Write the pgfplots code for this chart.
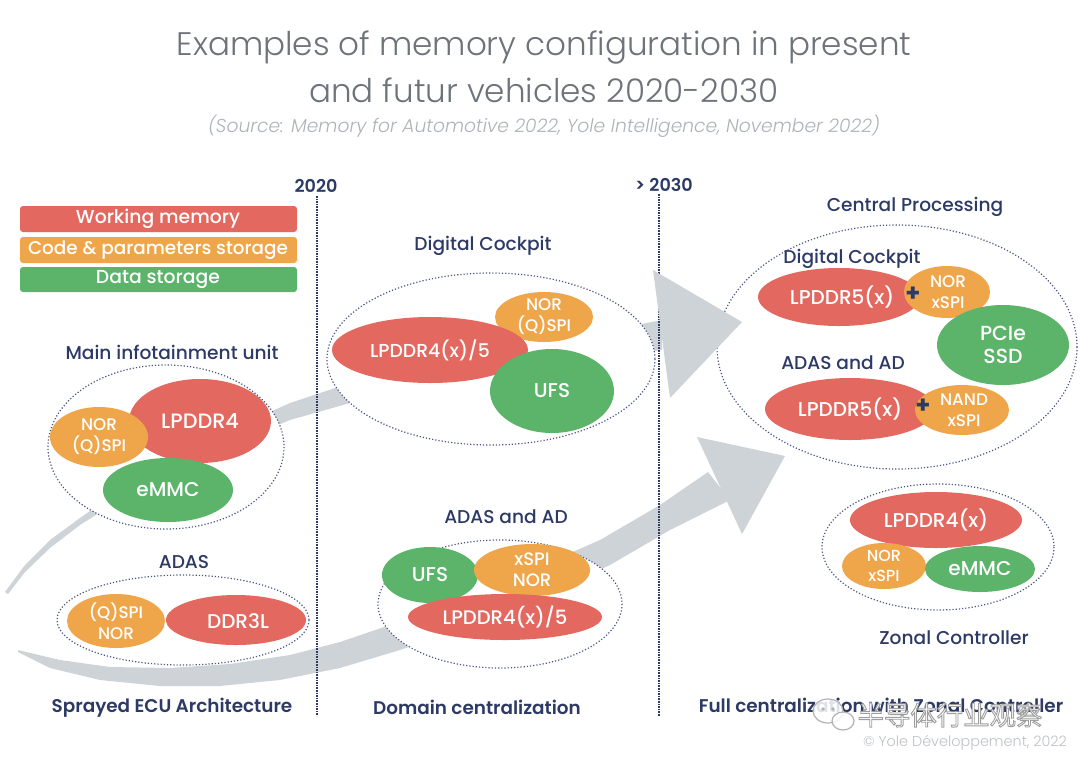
\documentclass[border=0pt]{standalone}
\usepackage{fontspec}
\setmainfont{Poppins}
\newfontfamily\lightfont{Poppins}[UprightFont={* Light},ItalicFont={* Light Italic}]
\newfontfamily\medfont{Poppins}[UprightFont={* Medium},BoldFont={* SemiBold}]
\newfontfamily\cjk{Noto Sans CJK SC}
\usepackage{pgfplots}
\pgfplotsset{compat=1.18}
\definecolor{cred}{HTML}{E3685F}
\definecolor{corange}{HTML}{EFA64A}
\definecolor{cgreen}{HTML}{5CB46B}
\definecolor{carrow}{HTML}{CED3D8}
\definecolor{navy}{HTML}{2D3A66}
\definecolor{cborder}{HTML}{4A5585}
\definecolor{ctitle}{HTML}{6E737B}
\definecolor{csource}{HTML}{AEB2B8}
\newcommand{\fs}[1]{\fontsize{#1}{#1}\selectfont}
\newcommand{\fl}[2]{\fontsize{#1}{#2}\selectfont}
\tikzset{
  lab/.style={text=navy,font=\medfont\fs{9.3}},
  wt/.style={text=white,font=\medfont\fs{9.4},align=center},
  wts/.style={text=white,font=\medfont\fl{8.4}{10.5},align=center,inner sep=1pt},
  plus/.style={text=navy,font=\bfseries\fs{12},inner sep=0pt},
  bigell/.style={fill=white,draw=cborder,densely dotted,line width=0.6pt}}
\begin{document}
\begin{tikzpicture}
\begin{axis}[x=0.5pt,y=0.5pt,xmin=0,xmax=1080,ymin=0,ymax=761,y dir=reverse,
  axis lines=none,clip=false]
\addplot[draw=none] coordinates {(0,0) (1080,761)};
% arrow bands
\addplot[fill=carrow,draw=none] coordinates {
(5,592)(25,565)(50,540)(80,518)(120,490)(170,460)(230,430)(290,403)(350,383)(420,366)(500,350)(580,336)(662,320)
(662,350)(580,362)(500,375)(420,388)(350,403)(290,420)(230,445)(170,472)(120,500)(80,525)(50,548)(25,572)(8,594)} --cycle;
\addplot[fill=carrow,draw=none] coordinates {
(18,650)(60,660)(110,667)(170,668)(230,664)(290,655)(340,642)(390,625)(450,600)(520,575)(600,540)(660,505)(708,472)
(730,500)(670,530)(610,565)(540,597)(470,625)(400,650)(340,668)(280,680)(220,686)(160,686)(100,680)(50,668)(18,652)} --cycle;
% vertical dotted lines
\addplot[navy,line width=0.6pt,dash pattern=on 0.8pt off 0.5pt] coordinates {(317,196)(317,716)};
\addplot[navy,line width=0.6pt,dash pattern=on 0.8pt off 0.5pt] coordinates {(659,194)(659,716)};
% title
\node[text=ctitle,font=\lightfont\fs{16.3}] at (axis cs:544,48) {Examples of memory configuration in present};
\node[text=ctitle,font=\lightfont\fs{16.3}] at (axis cs:544,90) {and futur vehicles 2020-2030};
\node[text=csource,font=\lightfont\itshape\fs{9.35}] at (axis cs:544,126) {(Source: Memory for Automotive 2022, Yole Intelligence, November 2022)};
\node[text=navy,font=\medfont\bfseries\fs{8.8}] at (axis cs:316,186) {2020};
\node[text=navy,font=\medfont\bfseries\fs{8.8}] at (axis cs:664,185) {> 2030};
% legend
\fill[cred,rounded corners=1.5pt] (axis cs:20,206) rectangle (axis cs:297,232);
\fill[corange,rounded corners=1.5pt] (axis cs:20,237) rectangle (axis cs:297,263);
\fill[cgreen,rounded corners=1.5pt] (axis cs:20,267) rectangle (axis cs:297,292);
\node[wt,font=\medfont\fs{9.4}] at (axis cs:158,219) {Working memory};
\node[wt,font=\medfont\fs{9.2}] at (axis cs:158,250) {Code \& parameters storage};
\node[wt,font=\medfont\fs{9.4}] at (axis cs:158,279.5) {Data storage};
% main infotainment
\node[lab] at (axis cs:172,352) {Main infotainment unit};
\draw[bigell] (axis cs:166,447) ellipse [x radius=118, y radius=82];
\fill[cred] (axis cs:200,421) ellipse [x radius=71, y radius=42];
\fill[corange] (axis cs:99,437) ellipse [x radius=49, y radius=30];
\fill[cgreen] (axis cs:168,490) ellipse [x radius=65, y radius=32];
\node[wt,font=\medfont\fs{10.4}] at (axis cs:200,421) {LPDDR4};
\node[wts] at (axis cs:99,437) {NOR\\(Q)SPI};
\node[wt,font=\medfont\fs{10}] at (axis cs:168,490) {eMMC};
% ADAS
\node[lab] at (axis cs:184,562) {ADAS};
\draw[bigell] (axis cs:183,620) ellipse [x radius=126, y radius=45];
\fill[cred] (axis cs:236,620) ellipse [x radius=70, y radius=25];
\fill[corange] (axis cs:116,621) ellipse [x radius=49, y radius=27];
\node[wts] at (axis cs:116,621) {(Q)SPI\\NOR};
\node[wt,font=\medfont\fs{10}] at (axis cs:238,621) {DDR3L};
% Digital cockpit
\node[lab] at (axis cs:483,246) {Digital Cockpit};
\draw[bigell] (axis cs:491,359) ellipse [x radius=164, y radius=86];
\fill[corange] (axis cs:544,317) ellipse [x radius=49, y radius=25];
\fill[cred] (axis cs:430,350) ellipse [x radius=98, y radius=33];
\fill[cgreen] (axis cs:552,391) ellipse [x radius=62, y radius=42];
\node[wts] at (axis cs:544,317) {NOR\\(Q)SPI};
\node[wt] at (axis cs:430,350) {LPDDR4(x)/5};
\node[wt,font=\medfont\fs{10}] at (axis cs:552,391) {UFS};
% ADAS and AD
\node[lab] at (axis cs:506,517) {ADAS and AD};
\draw[bigell] (axis cs:500,604) ellipse [x radius=122, y radius=64];
\fill[cgreen] (axis cs:430,575) ellipse [x radius=48, y radius=28];
\fill[corange] (axis cs:532,570) ellipse [x radius=58, y radius=26];
\fill[cred] (axis cs:505,617) ellipse [x radius=97, y radius=23];
\node[wt,font=\medfont\fs{10}] at (axis cs:430,575) {UFS};
\node[wts,font=\medfont\fl{9}{10.5}] at (axis cs:532,570) {xSPI\\NOR};
\node[wt,font=\medfont\fs{9.8}] at (axis cs:505,617) {LPDDR4(x)/5};
% Central processing
\node[lab] at (axis cs:915,207) {Central Processing};
\draw[bigell] (axis cs:897,347) ellipse [x radius=180, y radius=122];
\node[lab] at (axis cs:852,259) {Digital Cockpit};
\fill[cred] (axis cs:839,297) ellipse [x radius=81, y radius=29];
\fill[corange] (axis cs:947,292) ellipse [x radius=43, y radius=26];
\fill[cgreen] (axis cs:1003,345) ellipse [x radius=66, y radius=40];
\node[wt,font=\medfont\fs{10}] at (axis cs:842,297) {LPDDR5(x)};
\node[plus] at (axis cs:913,294) {+};
\node[wts] at (axis cs:948,292) {NOR\\xSPI};
\node[wt,font=\medfont\fl{10.2}{11.5}] at (axis cs:1003,345) {PCIe\\SSD};
\node[lab] at (axis cs:843,363) {ADAS and AD};
\fill[cred] (axis cs:850,409) ellipse [x radius=85, y radius=31];
\fill[corange] (axis cs:962,410) ellipse [x radius=47, y radius=25];
\node[wt,font=\medfont\fs{10}] at (axis cs:850,409) {LPDDR5(x)};
\node[plus] at (axis cs:923,406) {+};
\node[wts] at (axis cs:964,410) {NAND\\xSPI};
% Zonal
\draw[bigell] (axis cs:938,547) ellipse [x radius=116, y radius=63];
\fill[cred] (axis cs:936,520) ellipse [x radius=86, y radius=28];
\fill[corange] (axis cs:884,566) ellipse [x radius=42, y radius=23];
\fill[cgreen] (axis cs:980,569) ellipse [x radius=55, y radius=23];
\node[wt,font=\medfont\fs{10}] at (axis cs:936,520) {LPDDR4(x)};
\node[wts,font=\medfont\fl{8}{9.8}] at (axis cs:884,566) {NOR\\xSPI};
\node[wt,font=\medfont\fs{10}] at (axis cs:980,569) {eMMC};
\node[lab] at (axis cs:954,638) {Zonal Controller};
% arrowheads
\addplot[fill=carrow,draw=none] coordinates {(653,270)(742,322)(670,398)} --cycle;
\addplot[fill=carrow,draw=none] coordinates {(697,437)(785,456)(742,534)} --cycle;
% bottom labels
\node[text=navy,font=\medfont\bfseries\fs{9.2}] at (axis cs:172,708) {Sprayed ECU Architecture};
\node[text=navy,font=\medfont\bfseries\fs{9.2}] at (axis cs:477,707) {Domain centralization};
\node[text=navy,font=\medfont\bfseries\fs{9.2}] at (axis cs:881,705) {Full centralization with Zonal Controller};
% watermark
\draw[gray!60,fill=white,fill opacity=0.85,line width=0.6pt] (axis cs:828,711) ellipse [x radius=15, y radius=12];
\draw[gray!60,fill=white,fill opacity=0.85,line width=0.6pt] (axis cs:843,721) ellipse [x radius=11, y radius=9];
\fill[gray!60] (axis cs:823,709) circle [radius=1.8];
\fill[gray!60] (axis cs:833,709) circle [radius=1.8];
\node[text=white,font=\cjk\fs{13.2}] at (axis cs:950,715) {\special{pdf:literal 0.62 0.62 0.62 RG 0.45 w 2 Tr}半导体行业观察\special{pdf:literal 0 Tr}};
\node[text=csource!80,font=\lightfont\fs{7.2}] at (axis cs:965,743) {© Yole Développement, 2022};
\end{axis}
\end{tikzpicture}
\end{document}
